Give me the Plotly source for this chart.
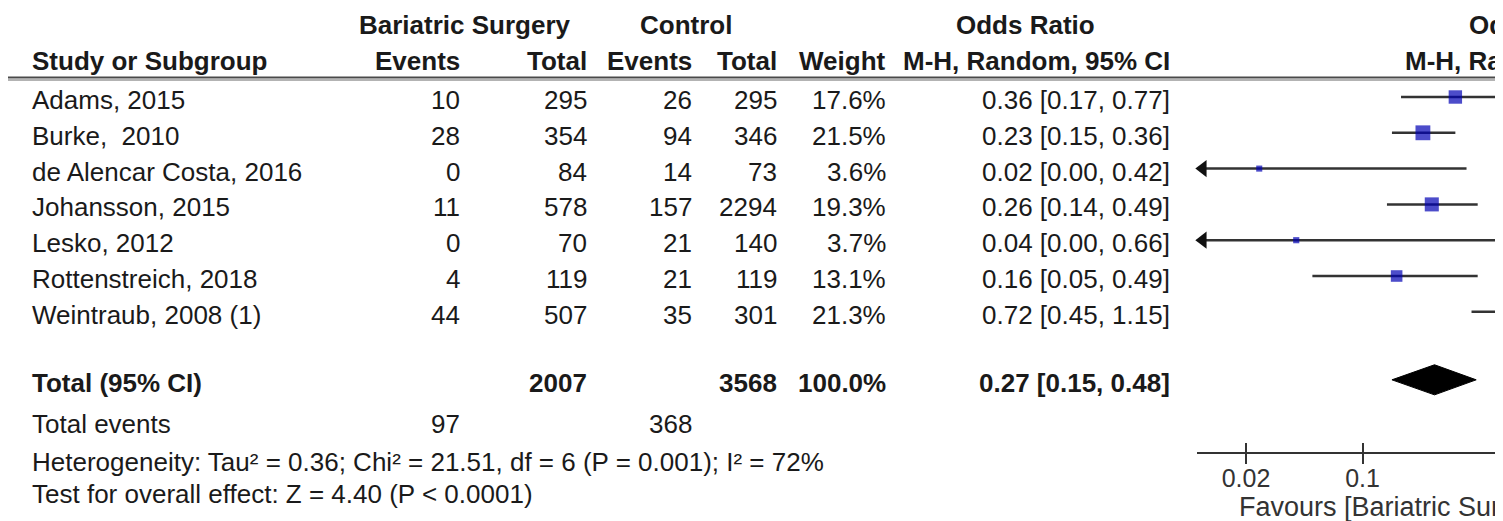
import math
import plotly.graph_objects as go

# ---------------- data ----------------
studies = ["Adams, 2015", "Burke,\u00a0 2010", "de Alencar Costa, 2016", "Johansson, 2015",
           "Lesko, 2012", "Rottenstreich, 2018", "Weintraub, 2008 (1)"]
bs_events = [10, 28, 0, 11, 0, 4, 44]
bs_total = [295, 354, 84, 578, 70, 119, 507]
ct_events = [26, 94, 14, 157, 21, 21, 35]
ct_total = [295, 346, 73, 2294, 140, 119, 301]
weight = [17.6, 21.5, 3.6, 19.3, 3.7, 13.1, 21.3]
or_est = [0.36, 0.23, 0.024, 0.26, 0.04, 0.16, 0.72]
or_lo = [0.17, 0.15, 0.001, 0.14, 0.002, 0.05, 0.45]
or_hi = [0.77, 0.36, 0.42, 0.49, 0.66, 0.49, 1.15]

total_bs = 2007
total_ct = 3568
total_weight = 100.0
total_or = [0.27, 0.15, 0.48]
total_events = [97, 368]
heterogeneity = "Heterogeneity: Tau\u00b2 = 0.36; Chi\u00b2 = 21.51, df = 6 (P = 0.001); I\u00b2 = 72%"
overall = "Test for overall effect: Z = 4.40 (P < 0.0001)"
tick_vals = [0.02, 0.1]
tick_text = ["0.02", "0.1"]
favours_left = "Favours [Bariatric Surgery]"

# ---------------- layout helpers ----------------
OFF = 8                           # default page margin of the html body
W, H = 1503 - OFF, 521 - OFF
ROW0, ROWH = 97.0, 35.8           # screen-pixel centre of row 0 and row pitch
def r_of(py):                     # screen pixel y -> row coordinate
    return (py - ROW0) / ROWH
def px(sx):                       # screen pixel x -> paper fraction
    return (sx - OFF) / W

XMIN, XMAX = -1.993, -0.158       # log10 range of the visible forest axis
FONT = "Liberation Sans, Arial, sans-serif"
TXT = "#1a1a1a"
FS = 26

annotations = []
def txt(sx, r, s, anchor="right", bold=False, size=FS, color=TXT, yshift=-3):
    annotations.append(dict(
        x=px(sx), y=r, xref="paper", yref="y",
        text=("<b>%s</b>" % s) if bold else s,
        showarrow=False, xanchor=anchor, yanchor="middle", yshift=yshift,
        font=dict(family=FONT, size=size, color=color)))

# column right edges (screen pixels)
C_NAME, C_BSE, C_BST, C_CTE, C_CTT, C_W, C_OR = 30, 462, 589, 694, 779, 888, 1172

# headers
hr1, hr2 = r_of(22), r_of(58)
txt(465, hr1, "Bariatric Surgery", anchor="center", bold=True)
txt(686, hr1, "Control", anchor="center", bold=True)
txt(1025, hr1, "Odds Ratio", anchor="center", bold=True)
txt(1467, hr1, "Odds Ratio", anchor="left", bold=True)
txt(C_NAME, hr2, "Study or Subgroup", anchor="left", bold=True)
txt(C_BSE, hr2, "Events", bold=True)
txt(C_BST, hr2, "Total", bold=True)
txt(C_CTE, hr2, "Events", bold=True)
txt(C_CTT, hr2, "Total", bold=True)
txt(C_W, hr2, "Weight", bold=True)
txt(C_OR, hr2, "M-H, Random, 95% CI", bold=True)
txt(1403, hr2, "M-H, Random, 95% CI", anchor="left", bold=True)

fmt = lambda e, l, h: "%.2f [%.2f, %.2f]" % (e, l, h)
rows = list(range(len(studies)))
for i in rows:
    txt(C_NAME, i, studies[i], anchor="left")
    txt(C_BSE, i, str(bs_events[i]))
    txt(C_BST, i, str(bs_total[i]))
    txt(C_CTE, i, str(ct_events[i]))
    txt(C_CTT, i, str(ct_total[i]))
    txt(C_W, i, "%.1f%%" % weight[i])
    txt(C_OR, i, fmt(or_est[i], or_lo[i], or_hi[i]))

TOT = 7.9
txt(C_NAME, TOT, "Total (95% CI)", anchor="left", bold=True)
txt(C_BST, TOT, str(total_bs), bold=True)
txt(C_CTT, TOT, str(total_ct), bold=True)
txt(C_W, TOT, "%.1f%%" % total_weight, bold=True)
txt(C_OR, TOT, fmt(*total_or), bold=True)

txt(C_NAME, r_of(421), "Total events", anchor="left")
txt(C_BSE, r_of(421), str(total_events[0]))
txt(C_CTE, r_of(421), str(total_events[1]))
txt(C_NAME, r_of(459), heterogeneity, anchor="left")
txt(C_NAME, r_of(491), overall, anchor="left")
txt(1237, r_of(507), favours_left, anchor="left", color="#333333", size=27, yshift=0)

# ---------------- traces ----------------
fig = go.Figure()

xmin_val = 10 ** XMIN
lx, ly = [], []
arrow_x, arrow_y = [], []
for i in rows:
    lo = or_lo[i]
    if lo < xmin_val:
        arrow_x.append(10 ** (XMIN + 0.035))
        arrow_y.append(i)
        lo = 10 ** (XMIN + 0.035)
    lx += [lo, or_hi[i], None]
    ly += [i, i, None]

fig.add_trace(go.Scatter(x=lx, y=ly, mode="lines", line=dict(color="#333333", width=2.5),
                         hoverinfo="skip", showlegend=False))
fig.add_trace(go.Scatter(x=arrow_x, y=arrow_y, mode="markers", cliponaxis=False,
                         marker=dict(symbol="triangle-left", size=15, color="#111111",
                                     line=dict(width=0)),
                         hoverinfo="skip", showlegend=False))
fig.add_trace(go.Scatter(x=or_est, y=rows, mode="markers",
                         marker=dict(symbol="square", size=[3.2 * math.sqrt(w) for w in weight],
                                     color="#0000b4", line=dict(width=0)),
                         showlegend=False))
dh = 0.42
fig.add_trace(go.Scatter(x=[total_or[1], total_or[0], total_or[2], total_or[0], total_or[1]],
                         y=[TOT, TOT - dh, TOT, TOT + dh, TOT],
                         mode="lines", fill="toself", fillcolor="#000000",
                         line=dict(color="#000000", width=1), showlegend=False))
# invisible trace on the overlay axis so its inward ticks are drawn
fig.add_trace(go.Scatter(x=[tick_vals[0]], y=[TOT], xaxis="x2", mode="markers",
                         marker=dict(opacity=0), hoverinfo="skip", showlegend=False))

# header rule (double line)
fig.add_shape(type="line", xref="paper", yref="y", x0=px(8), x1=1, y0=r_of(77.5), y1=r_of(77.5),
              line=dict(color="#4a4a4a", width=2))
fig.add_shape(type="line", xref="paper", yref="y", x0=px(8), x1=1, y0=r_of(80), y1=r_of(80),
              line=dict(color="#9a9a9a", width=1.5))

axis_pos = (H - (453 - OFF)) / H
common_x = dict(type="log", range=[XMIN, XMAX], domain=[px(1197), 1], anchor="free",
                position=axis_pos, showgrid=False, zeroline=False,
                tickvals=tick_vals, ticktext=tick_text, tickcolor="#333333", tickwidth=1.5,
                ticklen=10)
fig.update_layout(
    width=W, height=H, margin=dict(l=0, r=0, t=0, b=0),
    paper_bgcolor="white", plot_bgcolor="white",
    xaxis=dict(**common_x, showline=True, linecolor="#333333", linewidth=2, ticks="outside",
               ticklabelstandoff=-7,
               tickfont=dict(family=FONT, size=25, color="#333333")),
    xaxis2=dict(**common_x, overlaying="x", matches="x", showline=False, ticks="inside",
                showticklabels=False),
    yaxis=dict(range=[(H - (ROW0 - OFF)) / ROWH, -(ROW0 - OFF) / ROWH], domain=[0, 1],
               visible=False, fixedrange=True),
    annotations=annotations,
    showlegend=False,
)
fig.write_html("out.html")
